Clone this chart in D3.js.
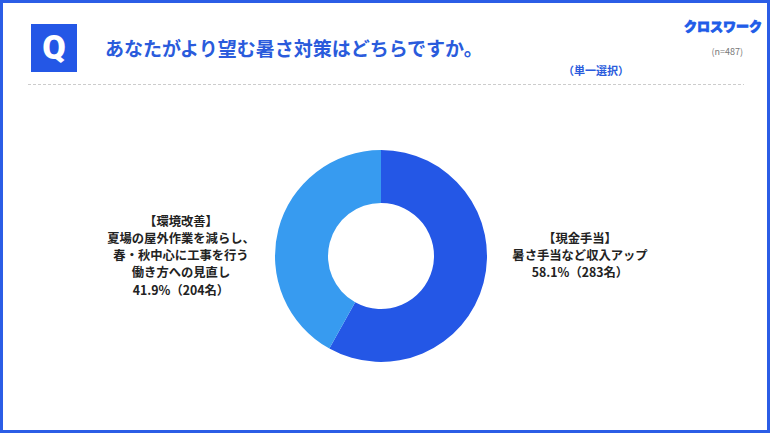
<!DOCTYPE html>
<html>
<head>
<meta charset="utf-8">
<script src="https://cdn.jsdelivr.net/npm/d3@7"></script>
<style>
  body { margin: 0; background: #fff; }
  svg { display: block; font-family: "Noto Sans CJK JP", "Noto Sans", sans-serif; }
</style>
</head>
<body>
<div id="chart"></div>
<script>
  // data
  const categories = ["現金手当", "環境改善"];
  const values = [58.1, 41.9];
  const counts = [283, 204];
  const colors = ["#2457e6", "#379bf0"];
  const labelLines = [
    ["【現金手当】", "暑さ手当など収入アップ", "58.1%（283名）"],
    ["【環境改善】", "夏場の屋外作業を減らし、", "春・秋中心に工事を行う", "働き方への見直し", "41.9%（204名）"]
  ];

  const width = 770;
  const height = 433;
  const blue = "#2a5bdc";

  const svg = d3.select("#chart")
    .append("svg")
    .attr("width", width)
    .attr("height", height);

  // frame
  svg.append("rect")
    .attr("x", 1.5).attr("y", 1.5)
    .attr("width", width - 3).attr("height", height - 3)
    .attr("fill", "none")
    .attr("stroke", "#2b5de6")
    .attr("stroke-width", 3);

  // Q box
  svg.append("rect")
    .attr("x", 31).attr("y", 24)
    .attr("width", 46).attr("height", 48)
    .attr("fill", "#2457e6");
  svg.append("text")
    .attr("x", 54).attr("y", 59)
    .attr("text-anchor", "middle")
    .attr("fill", "#fff")
    .attr("font-size", 34)
    .attr("font-weight", 900)
    .attr("font-family", "Roboto, sans-serif")
    .text("Q");

  // title
  svg.append("text")
    .attr("x", 105).attr("y", 56)
    .attr("fill", blue)
    .attr("font-size", 19)
    .attr("font-weight", 700)
    .text("あなたがより望む暑さ対策はどちらですか。");

  svg.append("text")
    .attr("x", 596).attr("y", 75)
    .attr("text-anchor", "middle")
    .attr("fill", blue)
    .attr("font-size", 11)
    .attr("font-weight", 700)
    .text("（単一選択）");

  // logo
  svg.append("text")
    .attr("x", 762).attr("y", 31)
    .attr("text-anchor", "end")
    .attr("fill", "#1f5ce8")
    .attr("stroke", "#1f5ce8")
    .attr("stroke-width", 0.8)
    .attr("font-size", 13)
    .attr("font-weight", 900)
    .text("クロスワーク");

  svg.append("text")
    .attr("x", 743).attr("y", 55)
    .attr("text-anchor", "end")
    .attr("fill", "#777")
    .attr("font-size", 9)
    .text("(n=487)");

  // dashed line
  svg.append("line")
    .attr("x1", 28).attr("x2", 744)
    .attr("y1", 84.5).attr("y2", 84.5)
    .attr("stroke", "#ccc")
    .attr("stroke-dasharray", "3,2");

  // donut
  const cx = 381, cy = 256;
  const pie = d3.pie().sort(null).value(d => d)(values);
  const arc = d3.arc().innerRadius(53).outerRadius(106);

  const g = svg.append("g").attr("transform", `translate(${cx}, ${cy})`);
  g.selectAll("path")
    .data(pie)
    .join("path")
    .attr("d", arc)
    .attr("fill", (d, i) => colors[i]);

  // labels
  const labelPos = [{ x: 580, y: 242.5 }, { x: 181, y: 225.5 }];
  labelLines.forEach((lines, i) => {
    const t = svg.append("text")
      .attr("text-anchor", "middle")
      .attr("fill", "#222")
      .attr("font-size", 12.3)
      .attr("font-weight", 700);
    lines.forEach((s, j) => {
      t.append("tspan")
        .attr("x", labelPos[i].x)
        .attr("y", labelPos[i].y + j * 17.3)
        .text(s);
    });
  });
</script>
</body>
</html>
